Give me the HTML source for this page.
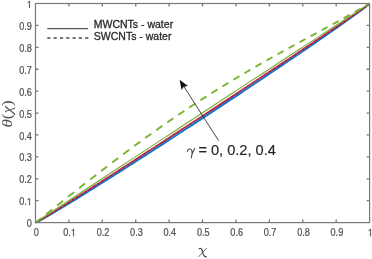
<!DOCTYPE html>
<html><head><meta charset="utf-8"><style>
html,body{margin:0;padding:0;background:#fff;width:372px;height:259px;overflow:hidden}
svg{display:block;filter:blur(0.45px)}
text{font-family:"Liberation Sans",sans-serif}
.s{font-family:"Liberation Serif",serif;font-style:italic}
</style></head><body>
<svg width="372" height="259" viewBox="0 0 372 259">
<rect width="372" height="259" fill="#fff"/>
<path d="M35.50,222.60 L39.68,220.70 L43.85,218.38 L48.03,215.98 L52.20,213.53 L56.38,211.04 L60.56,208.53 L64.73,206.00 L68.91,203.45 L73.09,200.89 L77.26,198.32 L81.44,195.73 L85.62,193.14 L89.79,190.54 L93.97,187.93 L98.14,185.31 L102.32,182.68 L106.50,180.05 L110.67,177.41 L114.85,174.77 L119.03,172.12 L123.20,169.46 L127.38,166.80 L131.55,164.13 L135.73,161.46 L139.91,158.79 L144.08,156.11 L148.26,153.42 L152.44,150.73 L156.61,148.04 L160.79,145.34 L164.96,142.64 L169.14,139.94 L173.32,137.23 L177.49,134.51 L181.67,131.80 L185.85,129.07 L190.02,126.35 L194.20,123.62 L198.37,120.89 L202.55,118.15 L206.73,115.41 L210.90,112.66 L215.08,109.92 L219.26,107.16 L223.43,104.41 L227.61,101.65 L231.78,98.88 L235.96,96.12 L240.14,93.34 L244.31,90.57 L248.49,87.79 L252.67,85.00 L256.84,82.22 L261.02,79.42 L265.19,76.63 L269.37,73.82 L273.55,71.02 L277.72,68.21 L281.90,65.39 L286.08,62.57 L290.25,59.74 L294.43,56.91 L298.60,54.07 L302.78,51.22 L306.96,48.37 L311.13,45.51 L315.31,42.64 L319.49,39.77 L323.66,36.89 L327.84,33.99 L332.01,31.09 L336.19,28.17 L340.37,25.24 L344.54,22.30 L348.72,19.33 L352.89,16.34 L357.07,13.31 L361.25,10.24 L365.42,7.08 L369.60,3.50" stroke="#0a72c4" stroke-width="1.9" fill="none"/><path d="M35.50,222.60 L39.68,220.58 L43.85,218.21 L48.03,215.76 L52.20,213.27 L56.38,210.75 L60.56,208.21 L64.73,205.65 L68.91,203.07 L73.09,200.49 L77.26,197.89 L81.44,195.29 L85.62,192.67 L89.79,190.05 L93.97,187.42 L98.14,184.79 L102.32,182.15 L106.50,179.50 L110.67,176.85 L114.85,174.19 L119.03,171.53 L123.20,168.86 L127.38,166.19 L131.55,163.51 L135.73,160.83 L139.91,158.15 L144.08,155.46 L148.26,152.77 L152.44,150.07 L156.61,147.37 L160.79,144.67 L164.96,141.96 L169.14,139.25 L173.32,136.54 L177.49,133.82 L181.67,131.10 L185.85,128.38 L190.02,125.65 L194.20,122.92 L198.37,120.19 L202.55,117.45 L206.73,114.71 L210.90,111.97 L215.08,109.22 L219.26,106.47 L223.43,103.71 L227.61,100.96 L231.78,98.20 L235.96,95.43 L240.14,92.67 L244.31,89.90 L248.49,87.12 L252.67,84.34 L256.84,81.56 L261.02,78.78 L265.19,75.99 L269.37,73.19 L273.55,70.40 L277.72,67.59 L281.90,64.79 L286.08,61.98 L290.25,59.16 L294.43,56.34 L298.60,53.52 L302.78,50.69 L306.96,47.85 L311.13,45.01 L315.31,42.16 L319.49,39.30 L323.66,36.44 L327.84,33.57 L332.01,30.69 L336.19,27.79 L340.37,24.89 L344.54,21.97 L348.72,19.04 L352.89,16.08 L357.07,13.09 L361.25,10.07 L365.42,6.96 L369.60,3.50" stroke="#3c8ee0" stroke-width="0.9" fill="none" stroke-dasharray="3 2"/><path d="M35.50,222.60 L39.68,220.33 L43.85,217.83 L48.03,215.28 L52.20,212.70 L56.38,210.10 L60.56,207.49 L64.73,204.87 L68.91,202.23 L73.09,199.59 L77.26,196.95 L81.44,194.30 L85.62,191.64 L89.79,188.97 L93.97,186.31 L98.14,183.64 L102.32,180.96 L106.50,178.28 L110.67,175.60 L114.85,172.91 L119.03,170.22 L123.20,167.53 L127.38,164.84 L131.55,162.14 L135.73,159.44 L139.91,156.73 L144.08,154.03 L148.26,151.32 L152.44,148.61 L156.61,145.89 L160.79,143.18 L164.96,140.46 L169.14,137.74 L173.32,135.02 L177.49,132.29 L181.67,129.57 L185.85,126.84 L190.02,124.11 L194.20,121.37 L198.37,118.64 L202.55,115.90 L206.73,113.16 L210.90,110.42 L215.08,107.67 L219.26,104.93 L223.43,102.18 L227.61,99.43 L231.78,96.68 L235.96,93.92 L240.14,91.16 L244.31,88.40 L248.49,85.64 L252.67,82.88 L256.84,80.11 L261.02,77.34 L265.19,74.57 L269.37,71.80 L273.55,69.02 L277.72,66.24 L281.90,63.46 L286.08,60.67 L290.25,57.88 L294.43,55.09 L298.60,52.30 L302.78,49.50 L306.96,46.70 L311.13,43.89 L315.31,41.08 L319.49,38.27 L323.66,35.45 L327.84,32.62 L332.01,29.79 L336.19,26.95 L340.37,24.11 L344.54,21.25 L348.72,18.39 L352.89,15.51 L357.07,12.61 L361.25,9.68 L365.42,6.71 L369.60,3.50" stroke="#a8183a" stroke-width="1.7" fill="none"/><path d="M35.50,222.60 L39.68,220.24 L43.85,217.69 L48.03,215.10 L52.20,212.49 L56.38,209.87 L60.56,207.23 L64.73,204.59 L68.91,201.94 L73.09,199.28 L77.26,196.61 L81.44,193.94 L85.62,191.27 L89.79,188.59 L93.97,185.91 L98.14,183.23 L102.32,180.54 L106.50,177.85 L110.67,175.16 L114.85,172.46 L119.03,169.76 L123.20,167.06 L127.38,164.36 L131.55,161.65 L135.73,158.94 L139.91,156.23 L144.08,153.52 L148.26,150.80 L152.44,148.09 L156.61,145.37 L160.79,142.65 L164.96,139.93 L169.14,137.20 L173.32,134.48 L177.49,131.75 L181.67,129.02 L185.85,126.29 L190.02,123.56 L194.20,120.82 L198.37,118.09 L202.55,115.35 L206.73,112.61 L210.90,109.87 L215.08,107.13 L219.26,104.38 L223.43,101.63 L227.61,98.89 L231.78,96.14 L235.96,93.38 L240.14,90.63 L244.31,87.88 L248.49,85.12 L252.67,82.36 L256.84,79.60 L261.02,76.83 L265.19,74.07 L269.37,71.30 L273.55,68.53 L277.72,65.76 L281.90,62.99 L286.08,60.21 L290.25,57.43 L294.43,54.65 L298.60,51.87 L302.78,49.08 L306.96,46.29 L311.13,43.50 L315.31,40.70 L319.49,37.90 L323.66,35.10 L327.84,32.29 L332.01,29.47 L336.19,26.66 L340.37,23.83 L344.54,21.00 L348.72,18.16 L352.89,15.30 L357.07,12.44 L361.25,9.55 L365.42,6.62 L369.60,3.50" stroke="#dc5c80" stroke-width="0.8" fill="none" stroke-dasharray="3 2"/><path d="M35.50,222.60 L39.68,219.81 L43.85,217.05 L48.03,214.29 L52.20,211.53 L56.38,208.78 L60.56,206.03 L64.73,203.28 L68.91,200.53 L73.09,197.78 L77.26,195.03 L81.44,192.28 L85.62,189.53 L89.79,186.79 L93.97,184.04 L98.14,181.30 L102.32,178.55 L106.50,175.81 L110.67,173.06 L114.85,170.32 L119.03,167.57 L123.20,164.83 L127.38,162.09 L131.55,159.34 L135.73,156.60 L139.91,153.86 L144.08,151.12 L148.26,148.37 L152.44,145.63 L156.61,142.89 L160.79,140.15 L164.96,137.41 L169.14,134.67 L173.32,131.93 L177.49,129.19 L181.67,126.45 L185.85,123.71 L190.02,120.97 L194.20,118.23 L198.37,115.49 L202.55,112.75 L206.73,110.01 L210.90,107.27 L215.08,104.53 L219.26,101.80 L223.43,99.06 L227.61,96.32 L231.78,93.58 L235.96,90.85 L240.14,88.11 L244.31,85.37 L248.49,82.64 L252.67,79.90 L256.84,77.17 L261.02,74.43 L265.19,71.69 L269.37,68.96 L273.55,66.23 L277.72,63.49 L281.90,60.76 L286.08,58.02 L290.25,55.29 L294.43,52.56 L298.60,49.82 L302.78,47.09 L306.96,44.36 L311.13,41.63 L315.31,38.90 L319.49,36.16 L323.66,33.43 L327.84,30.70 L332.01,27.98 L336.19,25.25 L340.37,22.52 L344.54,19.79 L348.72,17.07 L352.89,14.34 L357.07,11.62 L361.25,8.90 L365.42,6.19 L369.60,3.50" stroke="#77ac30" stroke-width="1.1" fill="none"/><path d="M35.50,222.60 L36.43,221.87 L37.35,221.14 L38.28,220.42 L39.21,219.69 L40.13,218.96 L41.06,218.23 M46.08,214.27 L47.08,213.48 L48.08,212.69 L49.08,211.91 L50.08,211.12 L51.08,210.33 L52.08,209.54 M57.10,205.57 L58.10,204.78 L59.10,203.99 L60.10,203.20 L61.10,202.41 L62.10,201.62 L63.10,200.83 M68.12,196.86 L69.12,196.08 L70.12,195.29 L71.12,194.50 L72.12,193.71 L73.12,192.92 L74.12,192.14 M79.14,188.19 L80.14,187.40 L81.14,186.62 L82.14,185.84 L83.14,185.05 L84.14,184.27 L85.14,183.49 M90.17,179.57 L91.17,178.79 L92.17,178.01 L93.17,177.23 L94.17,176.46 L95.17,175.68 L96.17,174.91 M101.19,171.03 L102.19,170.26 L103.19,169.49 L104.19,168.72 L105.19,167.95 L106.19,167.18 L107.19,166.42 M112.21,162.59 L113.21,161.82 L114.21,161.07 L115.21,160.31 L116.21,159.55 L117.21,158.79 L118.21,158.04 M123.23,154.26 L124.23,153.51 L125.23,152.77 L126.23,152.02 L127.23,151.27 L128.23,150.53 L129.23,149.79 M134.25,146.07 L135.25,145.34 L136.25,144.60 L137.25,143.87 L138.25,143.14 L139.25,142.40 L140.25,141.68 M145.27,138.03 L146.27,137.31 L147.27,136.59 L148.27,135.87 L149.27,135.15 L150.27,134.43 L151.27,133.72 M156.29,130.15 L157.29,129.44 L158.29,128.73 L159.29,128.03 L160.29,127.33 L161.29,126.62 L162.29,125.92 M167.31,122.43 L168.31,121.74 L169.31,121.05 L170.31,120.36 L171.31,119.67 L172.31,118.98 L173.31,118.30 M178.33,114.88 L179.33,114.21 L180.33,113.53 L181.33,112.86 L182.33,112.19 L183.33,111.52 L184.33,110.85 M189.35,107.51 L190.35,106.85 L191.35,106.20 L192.35,105.54 L193.35,104.88 L194.35,104.23 L195.35,103.58 M200.38,100.32 L201.38,99.67 L202.38,99.03 L203.38,98.39 L204.38,97.75 L205.38,97.11 L206.38,96.47 M211.40,93.30 L212.40,92.67 L213.40,92.04 L214.40,91.41 L215.40,90.79 L216.40,90.17 L217.40,89.55 M222.42,86.44 L223.42,85.83 L224.42,85.22 L225.42,84.61 L226.42,84.00 L227.42,83.39 L228.42,82.78 M233.44,79.75 L234.44,79.15 L235.44,78.55 L236.44,77.95 L237.44,77.36 L238.44,76.76 L239.44,76.17 M244.46,73.21 L245.46,72.62 L246.46,72.04 L247.46,71.45 L248.46,70.87 L249.46,70.29 L250.46,69.71 M255.48,66.80 L256.48,66.23 L257.48,65.66 L258.48,65.08 L259.48,64.51 L260.48,63.94 L261.48,63.37 M266.50,60.52 L267.50,59.96 L268.50,59.40 L269.50,58.83 L270.50,58.27 L271.50,57.71 L272.50,57.15 M277.52,54.35 L278.52,53.79 L279.52,53.24 L280.52,52.68 L281.52,52.13 L282.52,51.58 L283.52,51.03 M288.54,48.26 L289.54,47.71 L290.54,47.16 L291.54,46.61 L292.54,46.07 L293.54,45.52 L294.54,44.97 M299.56,42.23 L300.56,41.69 L301.56,41.14 L302.56,40.60 L303.56,40.06 L304.56,39.51 L305.56,38.97 M310.59,36.24 L311.59,35.70 L312.59,35.16 L313.59,34.61 L314.59,34.07 L315.59,33.53 L316.59,32.99 M321.61,30.26 L322.61,29.72 L323.61,29.17 L324.61,28.63 L325.61,28.09 L326.61,27.54 L327.61,27.00 M332.63,24.26 L333.63,23.71 L334.63,23.16 L335.63,22.61 L336.63,22.07 L337.63,21.52 L338.63,20.97 M343.65,18.20 L344.65,17.64 L345.65,17.09 L346.65,16.53 L347.65,15.98 L348.65,15.42 L349.65,14.86 M354.67,12.05 L355.67,11.48 L356.67,10.92 L357.67,10.35 L358.67,9.78 L359.67,9.22 L360.67,8.65 M365.69,5.77 L366.34,5.39 L366.99,5.01 L367.64,4.64 L368.30,4.26 L368.95,3.88 L369.60,3.50" stroke="#78b42e" stroke-width="1.9" fill="none"/>
<rect x="35.5" y="3.5" width="334.1" height="219.1" fill="none" stroke="#787878" stroke-width="1.2"/>
<path d="M68.91,222.6 V219.6 M68.91,3.5 V6.5 M35.5,200.69 H38.5 M369.6,200.69 H366.6 M102.32,222.6 V219.6 M102.32,3.5 V6.5 M35.5,178.78 H38.5 M369.6,178.78 H366.6 M135.73,222.6 V219.6 M135.73,3.5 V6.5 M35.5,156.87 H38.5 M369.6,156.87 H366.6 M169.14,222.6 V219.6 M169.14,3.5 V6.5 M35.5,134.96 H38.5 M369.6,134.96 H366.6 M202.55,222.6 V219.6 M202.55,3.5 V6.5 M35.5,113.05 H38.5 M369.6,113.05 H366.6 M235.96,222.6 V219.6 M235.96,3.5 V6.5 M35.5,91.14 H38.5 M369.6,91.14 H366.6 M269.37,222.6 V219.6 M269.37,3.5 V6.5 M35.5,69.23 H38.5 M369.6,69.23 H366.6 M302.78,222.6 V219.6 M302.78,3.5 V6.5 M35.5,47.32 H38.5 M369.6,47.32 H366.6 M336.19,222.6 V219.6 M336.19,3.5 V6.5 M35.5,25.41 H38.5 M369.6,25.41 H366.6" stroke="#787878" stroke-width="1.3" fill="none"/>
<g font-size="9.6" fill="#505050" stroke="#505050" stroke-width="0.22"><text transform="translate(33.66,236.20) scale(0.95,1.08)">0</text><text transform="translate(26.83,227.20) scale(0.95,1.08)">0</text><text transform="translate(63.27,236.20) scale(0.95,1.08)">0</text><text transform="translate(68.34,236.20) scale(0.95,1.08)">.</text><path transform="translate(70.88,236.20) scale(0.00445,-0.00506)" d="M515,0 L515,1237 L197,1010 L197,1180 L530,1409 L696,1409 L696,0 Z" stroke-width="46.9"/><text transform="translate(19.22,205.29) scale(0.95,1.08)">0</text><text transform="translate(24.29,205.29) scale(0.95,1.08)">.</text><path transform="translate(26.83,205.29) scale(0.00445,-0.00506)" d="M515,0 L515,1237 L197,1010 L197,1180 L530,1409 L696,1409 L696,0 Z" stroke-width="46.9"/><text transform="translate(96.68,236.20) scale(0.95,1.08)">0</text><text transform="translate(101.75,236.20) scale(0.95,1.08)">.</text><text transform="translate(104.29,236.20) scale(0.95,1.08)">2</text><text transform="translate(19.22,183.38) scale(0.95,1.08)">0</text><text transform="translate(24.29,183.38) scale(0.95,1.08)">.</text><text transform="translate(26.83,183.38) scale(0.95,1.08)">2</text><text transform="translate(130.09,236.20) scale(0.95,1.08)">0</text><text transform="translate(135.16,236.20) scale(0.95,1.08)">.</text><text transform="translate(137.70,236.20) scale(0.95,1.08)">3</text><text transform="translate(19.22,161.47) scale(0.95,1.08)">0</text><text transform="translate(24.29,161.47) scale(0.95,1.08)">.</text><text transform="translate(26.83,161.47) scale(0.95,1.08)">3</text><text transform="translate(163.50,236.20) scale(0.95,1.08)">0</text><text transform="translate(168.57,236.20) scale(0.95,1.08)">.</text><text transform="translate(171.11,236.20) scale(0.95,1.08)">4</text><text transform="translate(19.22,139.56) scale(0.95,1.08)">0</text><text transform="translate(24.29,139.56) scale(0.95,1.08)">.</text><text transform="translate(26.83,139.56) scale(0.95,1.08)">4</text><text transform="translate(196.91,236.20) scale(0.95,1.08)">0</text><text transform="translate(201.98,236.20) scale(0.95,1.08)">.</text><text transform="translate(204.52,236.20) scale(0.95,1.08)">5</text><text transform="translate(19.22,117.65) scale(0.95,1.08)">0</text><text transform="translate(24.29,117.65) scale(0.95,1.08)">.</text><text transform="translate(26.83,117.65) scale(0.95,1.08)">5</text><text transform="translate(230.32,236.20) scale(0.95,1.08)">0</text><text transform="translate(235.39,236.20) scale(0.95,1.08)">.</text><text transform="translate(237.93,236.20) scale(0.95,1.08)">6</text><text transform="translate(19.22,95.74) scale(0.95,1.08)">0</text><text transform="translate(24.29,95.74) scale(0.95,1.08)">.</text><text transform="translate(26.83,95.74) scale(0.95,1.08)">6</text><text transform="translate(263.73,236.20) scale(0.95,1.08)">0</text><text transform="translate(268.80,236.20) scale(0.95,1.08)">.</text><text transform="translate(271.34,236.20) scale(0.95,1.08)">7</text><text transform="translate(19.22,73.83) scale(0.95,1.08)">0</text><text transform="translate(24.29,73.83) scale(0.95,1.08)">.</text><text transform="translate(26.83,73.83) scale(0.95,1.08)">7</text><text transform="translate(297.14,236.20) scale(0.95,1.08)">0</text><text transform="translate(302.21,236.20) scale(0.95,1.08)">.</text><text transform="translate(304.75,236.20) scale(0.95,1.08)">8</text><text transform="translate(19.22,51.92) scale(0.95,1.08)">0</text><text transform="translate(24.29,51.92) scale(0.95,1.08)">.</text><text transform="translate(26.83,51.92) scale(0.95,1.08)">8</text><text transform="translate(330.55,236.20) scale(0.95,1.08)">0</text><text transform="translate(335.62,236.20) scale(0.95,1.08)">.</text><text transform="translate(338.16,236.20) scale(0.95,1.08)">9</text><text transform="translate(19.22,30.01) scale(0.95,1.08)">0</text><text transform="translate(24.29,30.01) scale(0.95,1.08)">.</text><text transform="translate(26.83,30.01) scale(0.95,1.08)">9</text><path transform="translate(367.76,236.20) scale(0.00445,-0.00506)" d="M515,0 L515,1237 L197,1010 L197,1180 L530,1409 L696,1409 L696,0 Z" stroke-width="46.9"/><path transform="translate(26.83,8.10) scale(0.00445,-0.00506)" d="M515,0 L515,1237 L197,1010 L197,1180 L530,1409 L696,1409 L696,0 Z" stroke-width="46.9"/></g>
<line x1="47.2" y1="28.6" x2="88" y2="28.6" stroke="#555" stroke-width="1.05"/>
<line x1="47.3" y1="38.0" x2="88.5" y2="38.0" stroke="#4a4a4a" stroke-width="1.3" stroke-dasharray="3.2 3.1"/>
<g font-size="10.5" fill="#2a2a2a" stroke="#2a2a2a" stroke-width="0.3">
<text x="93.8" y="27.5">MWCNTs - water</text>
<text x="93.8" y="40.3">SWCNTs - water</text>
</g>
<line x1="218.5" y1="140.5" x2="183.6" y2="86.1" stroke="#222" stroke-width="0.85"/>
<path d="M179.6,79.8 L187.9,85.9 L183.6,86.7 L181.6,90.0 Z" fill="#111"/>
<path d="M187.3,151.6 C187.9,149.2 190.6,147.6 191.9,150.6 L192.1,154 M194.7,148.5 C193.5,150.8 192.5,152.8 191.9,154.6 L191.3,157.9" stroke="#444" stroke-width="1.05" fill="none" stroke-linecap="round"/>
<text x="198.4" y="154.9" font-size="14.6" fill="#262626" stroke="#262626" stroke-width="0.15">= 0, 0.2, 0.4</text>
<path d="M199.3,248.6 C201.2,247.6 201.9,249.4 202.5,251.8 C203.1,254.3 204,256.9 206.3,256.9" stroke="#4a4a4a" stroke-width="1.35" fill="none" stroke-linecap="round"/><path d="M206.5,248.4 L198.7,256.7" stroke="#5a5a5a" stroke-width="0.9" fill="none" stroke-linecap="round"/>
<text class="s" transform="translate(11.9,113.9) rotate(-90) scale(1.27,1.15)" text-anchor="middle" font-size="13.5" fill="#505050"><tspan>θ</tspan><tspan font-style="normal">(</tspan>χ<tspan font-style="normal">)</tspan></text>
</svg>
</body></html>
